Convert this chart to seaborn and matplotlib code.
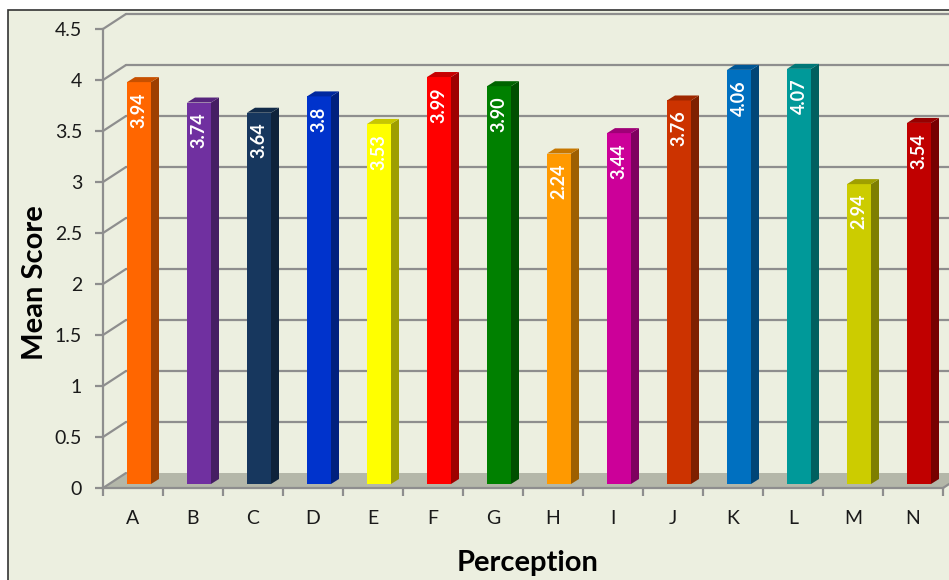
import matplotlib
matplotlib.use("Agg")
import matplotlib.pyplot as plt
import matplotlib.patches as mpatches
import seaborn as sns
import pandas as pd

# ---------------- data ----------------
categories = ["A", "B", "C", "D", "E", "F", "G", "H", "I", "J", "K", "L", "M", "N"]
mean_scores = [3.94, 3.74, 3.64, 3.80, 3.53, 3.99, 3.90, 3.24, 3.44, 3.76, 4.06, 4.07, 2.94, 3.54]
bar_labels = ["3.94", "3.74", "3.64", "3.8", "3.53", "3.99", "3.90", "2.24", "3.44",
              "3.76", "4.06", "4.07", "2.94", "3.54"]
bar_colors = ["#FF6600", "#7030A0", "#17375E", "#0033CC", "#FFFF00", "#FF0000", "#008000",
              "#FF9900", "#CC0099", "#CC3300", "#0070C0", "#009999", "#CCCC00", "#C00000"]
y_ticks = [0, 0.5, 1, 1.5, 2, 2.5, 3, 3.5, 4, 4.5]
y_tick_labels = ["0", "0.5", "1", "1.5", "2", "2.5", "3", "3.5", "4", "4.5"]

df = pd.DataFrame({"Perception": categories, "Mean Score": mean_scores})

sns.set_style("white")
plt.rcParams["font.family"] = ["Lato", "DejaVu Sans"]

W, H = 949, 580
fig = plt.figure(figsize=(W / 100, H / 100), dpi=100)
fig.patch.set_facecolor("white")

BG = "#ECEFE0"
GRID = "#8E8E8E"
FLOOR = "#B4B7A9"

# chart area background with border (behind everything)
bg_ax = fig.add_axes([0, 0, 1, 1], zorder=-10)
bg_ax.set_axis_off()
bg_ax.set_xlim(0, W)
bg_ax.set_ylim(H, 0)
bg_ax.add_patch(mpatches.Rectangle((8, 10), W + 50, H + 50, facecolor=BG,
                                   edgecolor="#333333", linewidth=1.2))

x0, x1 = 103, 943
y_top, y_bot = 29, 488
ax = fig.add_axes([x0 / W, (H - y_bot) / H, (x1 - x0) / W, (y_bot - y_top) / H])
ax.set_facecolor("none")
ax.set_xlim(-0.5, 13.5)
ax.set_ylim(0, 4.5)

# pixel -> data conversion
kx = 14 / (x1 - x0)
ky = 4.5 / (y_bot - y_top)
DX, DY = 23 * kx, 15 * ky        # full depth offset
FX, FY = 6 * kx, 4 * ky          # front face offset of bars
SX, SY = 8 * kx, 5 * ky          # bar depth

# floor
floor = mpatches.Polygon([(-0.5, 0), (13.5, 0), (13.5 + DX, DY), (-0.5 + DX, DY)],
                         closed=True, facecolor=FLOOR, edgecolor="none", zorder=1, clip_on=False)
ax.add_patch(floor)

# back wall grid + left wall diagonals
for yv in y_ticks:
    if yv > 0:
        ax.plot([-0.5 + DX, 14.5], [yv + DY, yv + DY], color=GRID, lw=1.6, zorder=1, clip_on=False)
    ax.plot([-0.5, -0.5 + DX], [yv, yv + DY], color=GRID, lw=1.6, zorder=1, clip_on=False)
ax.plot([13.5, 13.5 + DX], [0, DY], color=GRID, lw=1.6, zorder=1, clip_on=False)

# bars
sns.barplot(data=df, x="Perception", y="Mean Score", hue="Perception", palette=bar_colors,
            width=0.4, saturation=1, legend=False, ax=ax, zorder=3, linewidth=0)


def shade(c, f):
    r, g, b = matplotlib.colors.to_rgb(c)
    return (r * f, g * f, b * f)


bars = [p for p in ax.patches if isinstance(p, mpatches.Rectangle)]
for p, col, lab in zip(bars, bar_colors, bar_labels):
    bx, bw, bh = p.get_x(), p.get_width(), p.get_height()
    p.set_x(bx + FX)
    p.set_y(FY)
    p.set_zorder(3)
    xl, xr = bx + FX, bx + FX + bw
    yt = bh + FY
    side = mpatches.Polygon([(xr, FY), (xr + SX, FY + SY), (xr + SX, yt + SY), (xr, yt)],
                            closed=True, facecolor=shade(col, 0.62), edgecolor="none", zorder=3)
    top = mpatches.Polygon([(xl, yt), (xr, yt), (xr + SX, yt + SY), (xl + SX, yt + SY)],
                           closed=True, facecolor=shade(col, 0.78), edgecolor="none", zorder=3)
    ax.add_patch(side)
    ax.add_patch(top)
    ax.text((xl + xr) / 2, yt - 10 * ky, lab, rotation=90, ha="center", va="top",
            color="white", fontsize=13, fontweight="bold", zorder=4)

# axes styling
for s in ["top", "right"]:
    ax.spines[s].set_visible(False)
for s in ["left", "bottom"]:
    ax.spines[s].set_color(GRID)
    ax.spines[s].set_linewidth(1.6)
    ax.spines[s].set_zorder(2)

ax.set_yticks(y_ticks)
ax.set_yticklabels(y_tick_labels)
ax.tick_params(axis="y", direction="out", length=6, width=1.6, color=GRID, pad=9,
               labelsize=14, labelcolor="#1a1a1a", left=True)
ax.set_xticks([i - 0.5 for i in range(15)])
ax.set_xticklabels([""] * 15)
ax.set_xticks(range(len(categories)), minor=True)
ax.set_xticklabels(categories, minor=True)
ax.tick_params(axis="x", which="major", direction="out", length=6, width=1.6, color=GRID, bottom=True)
ax.tick_params(axis="x", which="minor", length=0, pad=16, labelsize=14, labelcolor="#1a1a1a")

ax.set_xlabel("")
ax.set_ylabel("")
fig.text(528 / W, 1 - 563 / H, "Perception", ha="center", va="center",
         fontsize=21, fontweight="bold", color="black")
fig.text(35 / W, 1 - 283 / H, "Mean Score", ha="center", va="center", rotation=90,
         fontsize=21, fontweight="bold", color="black")

fig.savefig("out.png", dpi=100, facecolor=fig.get_facecolor())
